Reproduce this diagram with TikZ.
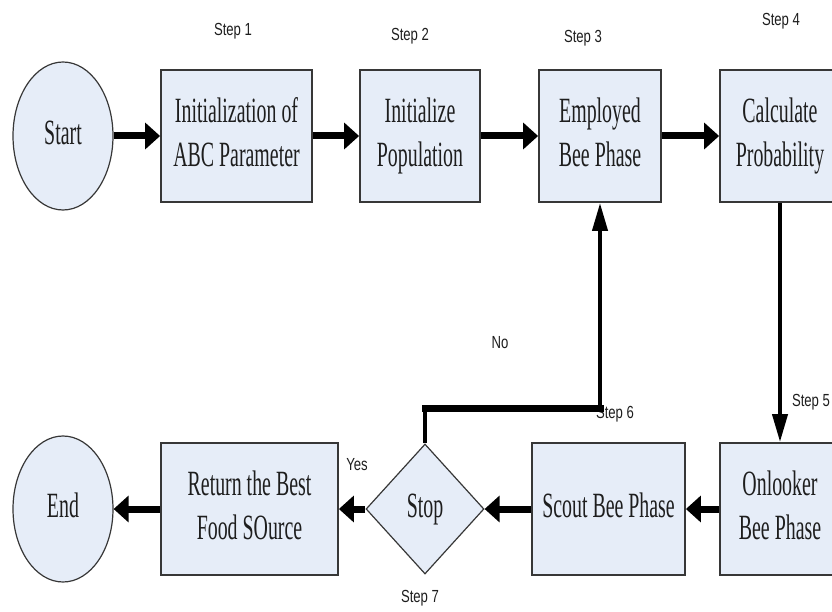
\documentclass[tikz,border=0pt]{standalone}
\usepackage{fontspec}
\setmainfont{Liberation Serif}
\newfontfamily\lblfont{Liberation Sans}
\usetikzlibrary{arrows.meta,shapes.geometric}
\definecolor{boxfill}{RGB}{230,237,248}
\definecolor{edgegray}{RGB}{55,55,55}
\definecolor{txtgray}{RGB}{30,30,30}
\newcommand{\mtext}[1]{\scalebox{0.56}[1]{\fontsize{35.5}{44}\selectfont\begin{tabular}{@{}c@{}}#1\end{tabular}}}
\newcommand{\stp}[1]{\scalebox{0.75}[1]{\lblfont\fontsize{17.5}{20}\selectfont #1}}
\tikzset{
  box/.style={rectangle, draw=edgegray, line width=1.8pt, fill=boxfill, inner sep=0pt, minimum height=132pt, text=txtgray},
  term/.style={ellipse, draw=edgegray, line width=1.2pt, fill=boxfill, inner sep=0pt, minimum width=100pt, minimum height=148pt, text=txtgray},
  decide/.style={diamond, draw=edgegray, line width=1.2pt, fill=boxfill, inner sep=0pt, minimum width=118pt, minimum height=130pt, text=txtgray},
  hflow/.style={line width=7pt, -{Triangle[length=15pt,width=26pt]}},
  vflow/.style={line width=4pt, -{Triangle[length=28pt,width=15pt]}},
  lbl/.style={inner sep=0pt, text=txtgray}
}
\begin{document}
\begin{tikzpicture}[x=1pt, y=-1pt]
\useasboundingbox (0,0) rectangle (832,612);
\clip (0,0) rectangle (832,612);
% top row
\node[term] (start) at (63,136) {\mtext{Start}};
\node[box, minimum width=151pt] (b1) at (236.5,136) {\mtext{Initialization of\\ABC Parameter}};
\node[box, minimum width=120pt] (b2) at (420,136) {\mtext{Initialize\\Population}};
\node[box, minimum width=122pt] (b3) at (600,136) {\mtext{Employed\\Bee Phase}};
\node[box, minimum width=120pt] (b4) at (780,136) {\mtext{Calculate\\Probability}};
% bottom row
\node[term, minimum height=146pt] (end) at (63,509) {\mtext{End}};
\node[box, minimum width=177pt] (ret) at (249.5,509) {\mtext{Return the Best\\Food SOurce}};
\node[decide] (stop) at (425,509) {\mtext{Stop}};
\node[box, minimum width=153pt] (scout) at (608.5,509) {\mtext{Scout Bee Phase}};
\node[box, minimum width=120pt] (onl) at (780,509) {\mtext{Onlooker\\Bee Phase}};
% labels
\node[lbl] (l1) at (233,31) {\stp{Step 1}};
\node[lbl] (l2) at (410,36) {\stp{Step 2}};
\node[lbl] (l3) at (583,38) {\stp{Step 3}};
\node[lbl] (l4) at (781,21) {\stp{Step 4}};
\node[lbl] (l5) at (811,402) {\stp{Step 5}};
\node[lbl] (l6) at (615,414) {\stp{Step 6}};
\node[lbl] (l7) at (420,598) {\stp{Step 7}};
\node[lbl] (lno) at (500,343) {\stp{No}};
\node[lbl] (lyes) at (357,465) {\stp{Yes}};
% connectors
\draw[hflow] (start.east) -- (b1.west);
\draw[hflow] (b1.east) -- (b2.west);
\draw[hflow] (b2.east) -- (b3.west);
\draw[hflow] (b3.east) -- (b4.west);
\draw[vflow] (b4.south) -- (onl.north);
\draw[hflow] (onl.west) -- (scout.east);
\draw[hflow] (scout.west) -- (stop.east);
\draw[hflow] (stop.west) -- (ret.east);
\draw[hflow] (ret.west) -- (end.east);
\coordinate (k1) at (425,408);
\coordinate (k2) at (600,408);
\draw[line width=4pt] (stop.north) -- (k1);
\draw[line width=7pt, line cap=rect] (k1) -- (k2);
\draw[vflow] ([yshift=-3pt]k2) -- (b3.south);
\end{tikzpicture}
\end{document}
